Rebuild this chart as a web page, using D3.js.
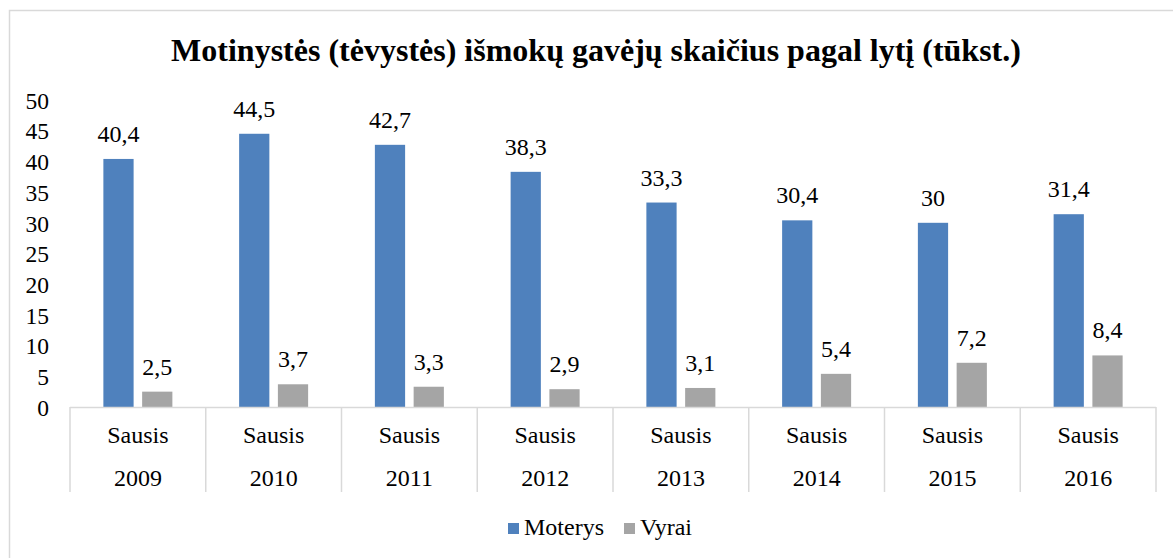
<!DOCTYPE html>
<html>
<head>
<meta charset="utf-8">
<script src="https://cdn.jsdelivr.net/npm/d3@7"></script>
<style>
  body { margin: 0; background: #fff; }
</style>
</head>
<body>
<div id="container"></div>
<script>
/* DATA */
const years = ["2009", "2010", "2011", "2012", "2013", "2014", "2015", "2016"];
const month = "Sausis";
const series = ["Moterys", "Vyrai"];
const moterys = [40.4, 44.5, 42.7, 38.3, 33.3, 30.4, 30, 31.4];
const vyrai = [2.5, 3.7, 3.3, 2.9, 3.1, 5.4, 7.2, 8.4];
const yTicks = [0, 5, 10, 15, 20, 25, 30, 35, 40, 45, 50];
const title = "Motinystės (tėvystės) išmokų gavėjų skaičius pagal lytį (tūkst.)";

/* CONSTANTS */
const width = 1173, height = 558;
const margin = { top: 100, bottom: 151, left: 70, right: 17 };
const colors = { Moterys: "#4f81bd", Vyrai: "#a5a5a5" };
const lineColor = "#d9d9d9";
const font = "'Liberation Serif', 'Times New Roman', serif";
const fs = "24px";

const rows = years.map((y, i) => ({ year: y, Moterys: moterys[i], Vyrai: vyrai[i] }));

const svg = d3.select("#container")
  .append("svg")
  .attr("width", width)
  .attr("height", height)
  .style("font-family", font);

// outer frame (runs off the page on the right and bottom)
svg.append("rect")
  .attr("x", 9.5).attr("y", 10.5)
  .attr("width", width + 20).attr("height", height + 20)
  .attr("fill", "none")
  .attr("stroke", lineColor)
  .attr("stroke-width", 1.5);

/* SCALES */
const x0 = d3.scaleBand()
  .domain(years)
  .range([margin.left, width - margin.right])
  .paddingInner(0);

const bw = x0.bandwidth();
const x1 = d3.scaleBand()
  .domain(series)
  .range([bw / 2 - 34.5, bw / 2 + 34.5])
  .paddingInner(0.22);

const yScale = d3.scaleLinear()
  .domain([0, 50])
  .range([height - margin.bottom, margin.top]);

// title
svg.append("text")
  .attr("x", 596)
  .attr("y", 61)
  .attr("text-anchor", "middle")
  .style("font-family", font)
  .style("font-size", "32px")
  .style("font-weight", "bold")
  .text(title);

// y axis labels (no line, no ticks)
const yAxis = d3.axisLeft(yScale).tickValues(yTicks).tickSize(0).tickPadding(0);
const yG = svg.append("g")
  .attr("transform", `translate(${49},0)`)
  .call(yAxis);
yG.select(".domain").remove();
yG.selectAll("text")
  .attr("dy", "0.35em")
  .style("font-family", font)
  .style("font-size", "23.5px")
  .attr("fill", "#000");

// bars
const groups = svg.selectAll("g.cat")
  .data(rows)
  .join("g")
  .attr("class", "cat")
  .attr("transform", d => `translate(${x0(d.year)},0)`);

groups.selectAll("rect")
  .data(d => series.map(s => ({ key: s, value: d[s] })))
  .join("rect")
  .attr("x", d => x1(d.key))
  .attr("y", d => yScale(d.value))
  .attr("width", x1.bandwidth())
  .attr("height", d => yScale(0) - yScale(d.value))
  .attr("fill", d => colors[d.key]);

groups.selectAll("text.val")
  .data(d => series.map(s => ({ key: s, value: d[s] })))
  .join("text")
  .attr("class", "val")
  .attr("x", d => x1(d.key) + x1.bandwidth() / 2)
  .attr("y", d => yScale(d.value) - 17)
  .attr("text-anchor", "middle")
  .style("font-size", fs)
  .text(d => String(d.value).replace(".", ","));

// category axis with two levels
const axisY = yScale(0);
const boxBottom = 492;
svg.append("line")
  .attr("x1", margin.left).attr("x2", width - margin.right)
  .attr("y1", axisY + 0.5).attr("y2", axisY + 0.5)
  .attr("stroke", lineColor).attr("stroke-width", 1.5);

const seps = years.map(y => x0(y)).concat([x0(years[years.length - 1]) + bw]);
svg.selectAll("line.sep")
  .data(seps)
  .join("line")
  .attr("class", "sep")
  .attr("x1", d => d).attr("x2", d => d)
  .attr("y1", axisY).attr("y2", boxBottom)
  .attr("stroke", lineColor).attr("stroke-width", 1.5);

groups.append("text")
  .attr("x", bw / 2)
  .attr("y", 443)
  .attr("text-anchor", "middle")
  .style("font-size", fs)
  .text(month);

groups.append("text")
  .attr("x", bw / 2)
  .attr("y", 486)
  .attr("text-anchor", "middle")
  .style("font-size", fs)
  .text(d => d.year);

// legend
const legendX = [508, 624];
const legend = svg.selectAll("g.legend")
  .data(series)
  .join("g")
  .attr("class", "legend")
  .attr("transform", (d, i) => `translate(${legendX[i]},${523})`);

legend.append("rect")
  .attr("width", 11).attr("height", 11)
  .attr("fill", d => colors[d]);

legend.append("text")
  .attr("x", 16)
  .attr("y", 12)
  .style("font-size", fs)
  .text(d => d);
</script>
</body>
</html>
